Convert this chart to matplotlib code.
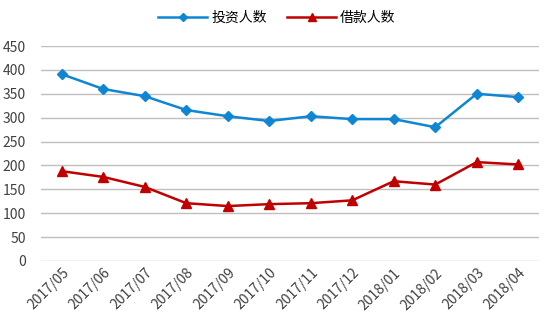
import matplotlib
matplotlib.use("Agg")
import matplotlib.pyplot as plt

plt.rcParams['font.family'] = ['Noto Sans CJK SC', 'DejaVu Sans']

months = ['2017/05', '2017/06', '2017/07', '2017/08', '2017/09', '2017/10',
          '2017/11', '2017/12', '2018/01', '2018/02', '2018/03', '2018/04']
investors = [391, 360, 345, 316, 303, 293, 303, 297, 297, 280, 350, 343]
borrowers = [188, 176, 155, 121, 115, 119, 121, 127, 167, 160, 207, 202]

fig = plt.figure(figsize=(5.54, 3.23), dpi=100)
ax = fig.add_axes([41 / 554, 1 - 261 / 323, 498 / 554, 215 / 323])

x = list(range(len(months)))
ax.plot(x, investors, color='#0E86D4', lw=1.8, marker='D', ms=5, label='投资人数')
ax.plot(x, borrowers, color='#C00000', lw=1.8, marker='^', ms=7, label='借款人数')

ax.set_xlim(-0.5, len(months) - 0.5)
ax.set_ylim(0, 450)
ax.set_yticks(range(0, 451, 50))
ax.grid(axis='y', color='#BFBFBF', lw=1)
ax.set_axisbelow(True)
for s in ax.spines.values():
    s.set_visible(False)
ax.tick_params(length=0, labelsize=10, labelcolor='#404040')
ax.tick_params(axis='y', pad=11)
ax.set_xticks(x)
ax.set_xticklabels(months, rotation=45, ha='right', rotation_mode='anchor')

fig.legend(loc='center', bbox_to_anchor=(0.5, 1 - 18 / 323), ncol=2, frameon=False,
           fontsize=10, handlelength=3.5, columnspacing=1.5, handletextpad=0.3,
           markerscale=0.8)

fig.savefig('out.png', dpi=100)
